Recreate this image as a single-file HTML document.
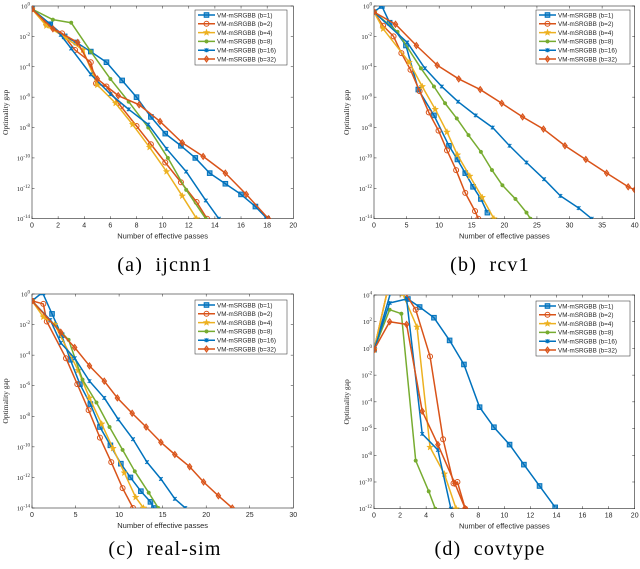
<!DOCTYPE html>
<html><head><meta charset="utf-8"><style>
html,body{margin:0;padding:0;background:#fff;}
svg{display:block;font-family:"Liberation Sans",sans-serif;}
.cap{white-space:pre;}
</style></head><body>
<svg id="fig" width="640" height="569" viewBox="0 0 640 569" xmlns="http://www.w3.org/2000/svg"></svg>
<script>
const seriesLabels = ["VM-mSRGBB (b=1)","VM-mSRGBB (b=2)","VM-mSRGBB (b=4)","VM-mSRGBB (b=8)","VM-mSRGBB (b=16)","VM-mSRGBB (b=32)"];
const seriesColors = ["#0072BD","#D95319","#EDB120","#77AC30","#0072BD","#D95319"];
const seriesMarkers = ["square","circle","star","dot","cross","diamond"];

// (a) ijcnn1 — passes, log10 gap
const ijcnn1X = [
 [0,1.4,2.5,3.4,4.5,5.7,6.9,8,9.1,10.2,11.4,12.5,13.6,14.8,16,17.1,18],
 [0,1.1,2.3,3.3,4.5,4.9,5.7,6.8,8,9.1,10.2,11.4,12.6,13.4],
 [0,1.1,2.6,3.9,5.0,6.4,7.7,9.0,10.3,11.5,12.6],
 [0,1.6,3.0,4.5,6.0,7.4,8.9,10.4,11.8,13.3],
 [0,1.4,2.2,3,4.5,6,7.4,8.9,10.3,11.8,13.3,14.3],
 [0,1.6,3.5,5,6.6,8.2,9.8,11.5,13.1,14.8,16.4,18.1]];
const ijcnn1Y = [
 [-0.2,-1.2,-2,-2.4,-3,-3.7,-4.9,-6,-7.3,-8.4,-9.2,-10,-11,-11.7,-12.4,-13.2,-14],
 [-0.2,-1.2,-1.8,-2.9,-3.7,-5.1,-5.3,-6.6,-7.9,-9.1,-10.3,-11.6,-12.9,-14],
 [-0.2,-1.3,-2.1,-2.9,-5.2,-6.4,-7.8,-9.3,-10.9,-12.5,-14],
 [-0.2,-0.9,-1.1,-3,-4.8,-6.3,-8,-10,-12.1,-14],
 [-0.2,-1.2,-1.9,-2.8,-4.5,-5.8,-6.8,-7.8,-9.4,-10.9,-12.8,-14],
 [-0.2,-1.5,-2.4,-4.8,-5.9,-6.5,-7.6,-9,-9.9,-11,-12.4,-14]];

// (b) rcv1
const rcv1X = [
 [0,1.2,2.4,4.9,6.8,9.2,11.5,12.8,14,15.2,16.4,17.4],
 [0,1.4,3,4.2,5.6,7,8.4,9.9,11.2,12.6,14,15.5,16],
 [0,1.4,5.4,7.4,9.4,11.2,12.8,14.7,16.6,18.4],
 [0,3.6,7.2,9.2,10.9,12.7,14.5,16.4,18.1,19.7,21.7,23.4,24],
 [0,5.1,7.8,10.4,12.9,15.6,18.2,20.8,23.4,26.1,28.6,31.4,33.4],
 [0,3.3,6.5,9.7,13,16.3,19.6,22.8,26,29.3,32.5,35.7,39,40]];
const rcv1Y = [
 [-0.4,0,-1.1,-2.6,-5.5,-7.2,-9.2,-10.1,-11,-11.9,-12.7,-13.6],
 [-0.4,-1.3,-2,-3.1,-4.2,-5.6,-7,-8.2,-9.5,-10.8,-12.3,-13.5,-14],
 [-0.4,-1.5,-3.7,-5.3,-6.8,-8.3,-9.8,-11.2,-12.6,-14],
 [-0.4,-1.7,-4.1,-5.3,-6.4,-7.4,-8.5,-9.6,-10.8,-11.8,-12.7,-13.6,-14],
 [-0.4,-2.4,-4.1,-5.3,-6.3,-7.2,-8,-9.2,-10.3,-11.4,-12.5,-13.3,-14],
 [-0.4,-1.2,-2.6,-3.9,-4.8,-5.5,-6.4,-7.3,-8.1,-9.2,-10.1,-11,-11.9,-12.1]];

// (c) real-sim
const realsimX = [
 [0,1.2,2.3,3.4,4.4,5.5,6.7,7.8,9,10.2,11.3,12.5,13.6,14],
 [0,1.3,1.7,3.9,5.2,6.5,7.8,9.1,10.4,11.6],
 [0,1.3,2.6,5.3,6.6,8,9.3,10.6,11.9,12.8],
 [0,4.2,5.8,7.4,8.9,10.4,11.8,13.4,14.5],
 [0,2.1,3.3,4.9,6.6,8.3,9.9,11.6,13.2,14.8,16.4,17.6],
 [0,3.3,4.9,6.6,8.3,9.8,11.5,13.1,14.8,16.4,18.1,19.7,21.4,23]];
const realsimY = [
 [-0.45,0.1,-1.3,-2.7,-4.3,-5.9,-7.2,-8.7,-9.9,-11.1,-12,-12.9,-13.6,-14],
 [-0.45,-0.65,-1.8,-4.2,-5.9,-7.6,-9.4,-11,-12.7,-14],
 [-0.45,-1.5,-2,-5,-6.8,-8.5,-10.1,-11.7,-13.3,-14],
 [-0.45,-3,-5.6,-7.1,-8.7,-10.2,-11.6,-13,-14],
 [-0.45,-1.7,-3.2,-4.2,-5.7,-6.8,-8.2,-9.5,-11,-12.1,-13.4,-14],
 [-0.45,-2.5,-3.5,-4.7,-5.7,-6.8,-7.8,-8.7,-9.7,-10.5,-11.3,-12.3,-13.2,-14]];

// (d) covtype
const covtypeX = [
 [0,1.4,2.6,3.5,4.6,5.8,6.9,8.1,9.2,10.4,11.5,12.7,13.9],
 [0,1,2.1,3.2,4.3,5.3,6.1,6.4,7],
 [0,1.1,2.2,3.3,4.3,5.4,6.3],
 [0,1.2,2.1,3.2,4.2,4.7],
 [0,1.2,2.5,3.7,4.9,5.9],
 [0,1.2,2.5,3.7,4.9,6.2,7]];
const covtypeY = [
 [-0.1,4.6,3.7,3.1,2.3,0.6,-1.2,-4.4,-5.9,-7.2,-8.7,-10.3,-11.9],
 [-0.1,4.2,4.6,2.9,-0.6,-6.8,-10.1,-10,-12],
 [-0.1,4.6,4.1,1.6,-7.4,-9.4,-12],
 [-0.1,2.9,2.6,-8.4,-10.7,-12],
 [-0.1,3.4,3.7,-6.4,-7.6,-12],
 [-0.1,2,1.8,-4.7,-7.2,-10.1,-12]];

const xTicksA=[0,2,4,6,8,10,12,14,16,18,20];
const xTicksB=[0,5,10,15,20,25,30,35,40];
const xTicksC=[0,5,10,15,20,25,30];
const yTicks14=[0,-2,-4,-6,-8,-10,-12,-14];
const yTicks12=[4,2,0,-2,-4,-6,-8,-10,-12];

const NS="http://www.w3.org/2000/svg";
const svg=document.getElementById('fig');
function mk(tag,attrs,parent){const e=document.createElementNS(NS,tag);for(const k in attrs)e.setAttribute(k,attrs[k]);(parent||svg).appendChild(e);return e;}

function marker(g,type,cx,cy,col){
  let e;
  if(type==="square"){e=mk('rect',{x:cx-2.3,y:cy-2.3,width:4.6,height:4.6,fill:col,'fill-opacity':0.6,stroke:col,'stroke-width':1},g);}
  else if(type==="circle"){e=mk('circle',{cx:cx,cy:cy,r:2.5,fill:'none',stroke:col,'stroke-width':1},g);}
  else if(type==="dot"){e=mk('circle',{cx:cx,cy:cy,r:1.8,fill:col,stroke:col,'stroke-width':0.5},g);}
  else if(type==="diamond"){e=mk('path',{d:`M${cx},${cy-3}L${cx+2.2},${cy}L${cx},${cy+3}L${cx-2.2},${cy}Z`,fill:col,'fill-opacity':0.6,stroke:col,'stroke-width':1},g);}
  else if(type==="cross"){e=mk('path',{d:`M${cx-1.8},${cy-1.8}L${cx+1.8},${cy+1.8}M${cx-1.8},${cy+1.8}L${cx+1.8},${cy-1.8}M${cx},${cy-2}L${cx},${cy+2}`,stroke:col,'stroke-width':1,fill:'none'},g);}
  else {let p='';for(let i=0;i<10;i++){const r=i%2?1.4:3.4;const a=-Math.PI/2+i*Math.PI/5;p+=(i?'L':'M')+(cx+r*Math.cos(a)).toFixed(2)+','+(cy+r*Math.sin(a)).toFixed(2);}e=mk('path',{d:p+'Z',fill:col,stroke:col,'stroke-width':0.5},g);}
  
  
}

function panel(id,box,xmax,xTicks,ymax,ymin,yTicks,X,Y,leg,ylabX,caption,capX,capY){
  const g=mk('g',{});
  
  
  const [x0,y0,x1,y1]=box;
  const sx=v=>x0+(v/xmax)*(x1-x0);
  const sy=v=>y0+(ymax-v)/(ymax-ymin)*(y1-y0);
  const bg=mk('rect',{x:x0,y:y0,width:x1-x0,height:y1-y0,fill:'#fff',stroke:'#262626','stroke-width':0.6},g);
  
  
  const clip=mk('clipPath',{id:'clip-'+id},g);mk('rect',{x:x0,y:y0,width:x1-x0,height:y1-y0},clip);
  xTicks.forEach(t=>{const x=sx(t);mk('line',{x1:x,y1:y1,x2:x,y2:y1-2.5,stroke:'#262626','stroke-width':0.5},g);mk('line',{x1:x,y1:y0,x2:x,y2:y0+2.5,stroke:'#262626','stroke-width':0.5},g);
    const tx=mk('text',{x:x,y:y1+9,'font-size':7,'text-anchor':'middle',fill:'#262626'},g);tx.textContent=t;
    
    });
  yTicks.forEach(t=>{const y=sy(t);mk('line',{x1:x0,y1:y,x2:x0+2.5,y2:y,stroke:'#262626','stroke-width':0.5},g);mk('line',{x1:x1,y1:y,x2:x1-2.5,y2:y,stroke:'#262626','stroke-width':0.5},g);
    const tx=mk('text',{x:x0-2,y:y+2.5,'font-size':6.5,'text-anchor':'end',fill:'#262626','font-family':'Liberation Serif, serif'},g);
    tx.textContent='10';const sp=mk('tspan',{dy:-3,'font-size':5},tx);sp.textContent=String(t);
    
    });
  const sg=mk('g',{'clip-path':`url(#clip-${id})`},g);
  X.forEach((xs,i)=>{
    const pts=xs.map((v,j)=>sx(v).toFixed(2)+','+sy(Y[i][j]).toFixed(2)).join(' ');
    const pl=mk('polyline',{points:pts,fill:'none',stroke:seriesColors[i],'stroke-width':1.5,'stroke-linejoin':'round'},sg);
    
    
    xs.forEach((v,j)=>marker(sg,seriesMarkers[i],sx(v),sy(Y[i][j]),seriesColors[i]));
  });
  const xl=mk('text',{x:(x0+x1)/2,y:y1+20,'font-size':7.5,'text-anchor':'middle',fill:'#262626'},g);xl.textContent='Number of effective passes';
  
  
  const yl=mk('text',{x:0,y:0,'font-size':7.5,'text-anchor':'middle',fill:'#262626','font-family':'Liberation Serif, serif',transform:`translate(${ylabX},${(y0+y1)/2}) rotate(-90)`},g);yl.textContent='Optimality gap';
  
  
  const cp=mk('text',{x:capX,y:capY,'font-size':20,'text-anchor':'middle',fill:'#000','font-family':'Liberation Serif, serif','letter-spacing':1.2,'class':'cap'},g);cp.textContent=caption;
  
  
  const [lx,ly,lw,lh]=leg;
  const lg=mk('g',{},g);
  
  
  mk('rect',{x:lx,y:ly,width:lw,height:lh,fill:'#fff',stroke:'#262626','stroke-width':0.5},lg);
  seriesLabels.forEach((s,i)=>{
    const yy=ly+5+i*8.8;
    mk('line',{x1:lx+3,y1:yy,x2:lx+20,y2:yy,stroke:seriesColors[i],'stroke-width':1.5},lg);
    marker(lg,seriesMarkers[i],lx+11.5,yy,seriesColors[i]);
    const t=mk('text',{x:lx+22,y:yy+2.3,'font-size':6.3,fill:'#262626'},lg);t.textContent=s;
    
    
  });
}

panel('ijcnn1',[32,6,293.3,218.7],20,xTicksA,0,-14,yTicks14,ijcnn1X,ijcnn1Y,[195,10,92,55],8,'(a)  ijcnn1',165,271);
panel('rcv1',[374,6,634.7,218.7],40,xTicksB,0,-14,yTicks14,rcv1X,rcv1Y,[536,10,94,54],349,'(b)  rcv1',490,271);
panel('realsim',[32,294,293.3,508],30,xTicksC,0,-14,yTicks14,realsimX,realsimY,[195,300,92,54],8,'(c)  real-sim',165,555);
panel('covtype',[374,295,634.7,508.7],20,xTicksA,4,-12,yTicks12,covtypeX,covtypeY,[536,301,94,55],349,'(d)  covtype',490,555);
</script>
</body></html>
